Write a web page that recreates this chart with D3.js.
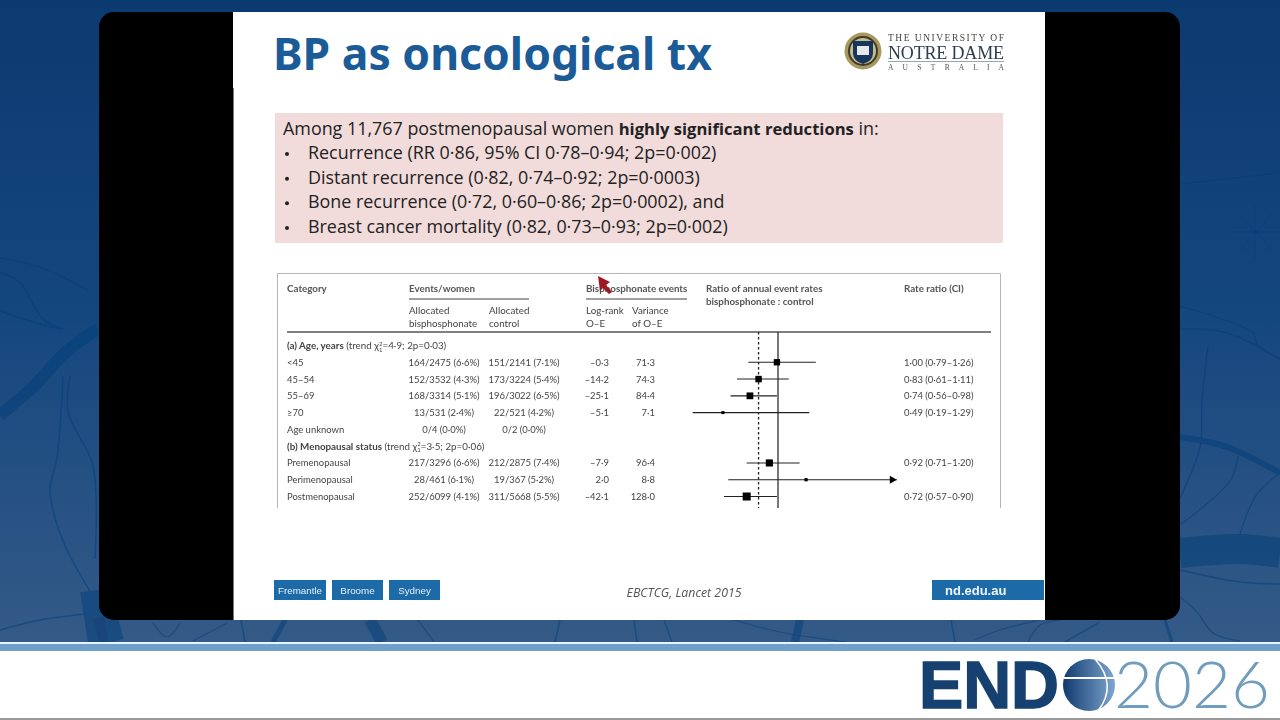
<!DOCTYPE html>
<html>
<head>
<meta charset="utf-8">
<script src="https://cdn.jsdelivr.net/npm/d3@7"></script>
<style>
  html, body { margin: 0; padding: 0; background: #fff; overflow: hidden; }
  svg { display: block; }
  .tbl { font-family: Lato, "Noto Sans", sans-serif; font-size: 9.8px; fill: #444; }
  .cell { font-size: 9.45px; }
  .head { font-weight: 700; fill: #555; }
  .bullet { font-family: "Open Sans", sans-serif; font-size: 17.9px; fill: #222; }
</style>
</head>
<body>
<script>
const categories = ["<45", "45–54", "55–69", "≥70", "Age unknown", "Premenopausal", "Perimenopausal", "Postmenopausal"];
const rowSlots = [1, 2, 3, 4, 5, 7, 8, 9];
const bisphosphonate = ["164/2475 (6·6%)", "152/3532 (4·3%)", "168/3314 (5·1%)", "13/531 (2·4%)", "0/4 (0·0%)", "217/3296 (6·6%)", "28/461 (6·1%)", "252/6099 (4·1%)"];
const control = ["151/2141 (7·1%)", "173/3224 (5·4%)", "196/3022 (6·5%)", "22/521 (4·2%)", "0/2 (0·0%)", "212/2875 (7·4%)", "19/367 (5·2%)", "311/5668 (5·5%)"];
const logRank = ["–0·3", "–14·2", "–25·1", "–5·1", "", "–7·9", "2·0", "–42·1"];
const varianceLabels = ["71·3", "74·3", "84·4", "7·1", "", "96·4", "8·8", "128·0"];
const variances = [71.3, 74.3, 84.4, 7.1, null, 96.4, 8.8, 128.0];
const rateLabels = ["1·00 (0·79–1·26)", "0·83 (0·61–1·11)", "0·74 (0·56–0·98)", "0·49 (0·19–1·29)", "", "0·92 (0·71–1·20)", "", "0·72 (0·57–0·90)"];
// plotted positions
const ratios = [0.99, 0.82, 0.74, 0.49, null, 0.92, 1.26, 0.71];
const lower = [0.725, 0.62, 0.56, 0.21, null, 0.71, 0.54, 0.50];
const upper = [1.35, 1.10, 0.99, 1.29, null, 1.20, 2.10, 0.99];
const overallRatio = 0.82;
const bullets = [
  "Recurrence (RR 0·86, 95% CI 0·78–0·94; 2p=0·002)",
  "Distant recurrence (0·82, 0·74–0·92; 2p=0·0003)",
  "Bone recurrence (0·72, 0·60–0·86; 2p=0·0002), and",
  "Breast cancer mortality (0·82, 0·73–0·93; 2p=0·002)"
];
const campuses = ["Fremantle", "Broome", "Sydney"];

const width = 1280;
const height = 720;

const svg = d3.select("body").append("svg")
  .attr("width", width)
  .attr("height", height);

const defs = svg.append("defs");
const bgGrad = defs.append("linearGradient").attr("id", "bg").attr("x2", 0).attr("y2", 1);
bgGrad.append("stop").attr("offset", "0%").attr("stop-color", "#0b3a70");
bgGrad.append("stop").attr("offset", "50%").attr("stop-color", "#15477f");
bgGrad.append("stop").attr("offset", "100%").attr("stop-color", "#345a87");
const globeGrad = defs.append("linearGradient").attr("id", "globe").attr("x2", 1).attr("y2", 0);
globeGrad.append("stop").attr("offset", "0%").attr("stop-color", "#123a6e");
globeGrad.append("stop").attr("offset", "100%").attr("stop-color", "#7ea6cf");
defs.append("filter").attr("id", "soft").append("feGaussianBlur").attr("stdDeviation", 0.28);
defs.append("filter").attr("id", "soft2").append("feGaussianBlur").attr("stdDeviation", 0.7);

// backdrop
svg.append("rect").attr("width", width).attr("height", 642).attr("fill", "url(#bg)");

const veins = [
  [[[0, 415], [33, 387], [67, 351], [98, 329]], 12],
  [[[0, 272], [20, 283], [43, 319], [63, 329]], 1.5],
  [[[0, 311], [33, 322], [60, 329]], 1.5],
  [[[0, 258], [40, 267], [87, 290]], 1.2],
  [[[63, 376], [57, 458], [50, 491], [63, 541], [90, 591]], 1.5],
  [[[70, 376], [68, 412], [93, 466], [95, 559]], 1.5],
  [[[90, 591], [98, 642]], 20],
  [[[105, 616], [112, 642]], 24],
  [[[0, 630], [40, 620], [87, 614]], 1.5],
  [[[153, 623], [167, 637], [180, 623]], 1.2],
  [[[193, 641], [227, 623]], 1.2],
  [[[241, 620], [245, 642]], 1.5],
  [[[285, 620], [273, 642]], 5],
  [[[370, 620], [382, 642]], 12],
  [[[418, 620], [434, 642]], 1.2],
  [[[560, 620], [555, 642]], 1.5],
  [[[634, 620], [637, 642]], 1.5],
  [[[664, 620], [672, 642]], 1.2],
  [[[734, 620], [780, 632], [846, 642]], 1.2],
  [[[800, 620], [795, 642]], 8],
  [[[951, 620], [955, 642]], 1.5],
  [[[1040, 620], [1000, 630], [975, 640]], 1.2],
  [[[1028, 642], [1040, 625], [1060, 620]], 1.2],
  [[[1180, 184], [1280, 173]], 1],
  [[[1255, 205], [1255, 262]], 0.8],
  [[[1228, 232], [1282, 232]], 0.8],
  [[[1240, 214], [1272, 250]], 0.7],
  [[[1240, 250], [1272, 214]], 0.7],
  [[[1180, 306], [1253, 333], [1257, 344], [1280, 359]], 1.3],
  [[[1180, 329], [1227, 333], [1280, 359]], 1.3],
  [[[1208, 346], [1202, 401], [1200, 447], [1180, 498]], 1.3],
  [[[1180, 437], [1227, 447], [1280, 473]], 6],
  [[[1180, 525], [1230, 481], [1238, 456]], 1.3],
  [[[1240, 534], [1257, 494], [1280, 473]], 1.3],
  [[[1180, 553], [1240, 549], [1280, 553]], 30],
  [[[1180, 570], [1240, 582], [1280, 584]], 1.3],
  [[[1180, 597], [1197, 612], [1213, 633], [1240, 641]], 1.3],
  [[[1165, 620], [1172, 642]], 3],
  [[[1065, 642], [1100, 622]], 1.5]
];
const veinLine = d3.line().curve(d3.curveCatmullRom);
svg.append("g")
  .attr("filter", "url(#soft2)")
  .selectAll("path")
  .data(veins)
  .enter()
  .append("path")
  .attr("d", d => veinLine(d[0]))
  .attr("fill", "none")
  .attr("stroke", "#0b3c78")
  .attr("stroke-opacity", 0.5)
  .attr("stroke-width", d => d[1]);

// footer bands
svg.append("rect").attr("y", 642).attr("width", width).attr("height", 2).attr("fill", "#e8f4fb");
svg.append("rect").attr("y", 644).attr("width", width).attr("height", 7).attr("fill", "#6f9fcb");
svg.append("rect").attr("y", 651).attr("width", width).attr("height", 67).attr("fill", "#fff");
svg.append("rect").attr("y", 718).attr("width", width).attr("height", 2).attr("fill", "#999");

// video panel and slide
svg.append("rect").attr("x", 99).attr("y", 12).attr("width", 1081).attr("height", 608).attr("rx", 15).attr("fill", "#000");
svg.append("rect").attr("x", 233).attr("y", 12).attr("width", 812).attr("height", 608).attr("fill", "#fff");
svg.append("rect").attr("x", 233).attr("y", 88).attr("width", 1).attr("height", 532).attr("fill", "#777");

svg.append("text")
  .attr("x", 273).attr("y", 70)
  .attr("font-family", "'Noto Sans', sans-serif")
  .attr("font-weight", 700)
  .attr("font-size", 44.5)
  .attr("fill", "#1b5b97")
  .text("BP as oncological tx");

// university logo
const logo = svg.append("g").attr("filter", "url(#soft)");
logo.append("circle").attr("cx", 863).attr("cy", 51).attr("r", 18.5).attr("fill", "#a8975f");
logo.append("circle").attr("cx", 863).attr("cy", 51).attr("r", 15).attr("fill", "#3b3a2c");
logo.append("circle").attr("cx", 863).attr("cy", 51).attr("r", 13).attr("fill", "#c9bc8c");
logo.append("path").attr("d", "M853,41h20v12q0,8 -10,11q-10,-3 -10,-11z").attr("fill", "#17365f");
logo.append("rect").attr("x", 857).attr("y", 46).attr("width", 12).attr("height", 9).attr("fill", "#e6e8ea");
const logoText = [
  ["THE UNIVERSITY OF", 40.5, 9.5, 116, "#444"],
  ["NOTRE DAME", 58.5, 18, 116, "#2f3d4d"],
  ["A U S T R A L I A", 70, 7.5, 116, "#555"]
];
logo.selectAll("text")
  .data(logoText)
  .enter()
  .append("text")
  .attr("x", 888)
  .attr("y", d => d[1])
  .attr("font-family", "'Liberation Serif', serif")
  .attr("font-size", d => d[2])
  .attr("textLength", d => d[3])
  .attr("lengthAdjust", "spacing")
  .attr("fill", d => d[4])
  .text(d => d[0]);
logo.append("line").attr("x1", 888).attr("x2", 1004).attr("y1", 61.5).attr("y2", 61.5).attr("stroke", "#9aa7b0");

// summary box
svg.append("rect").attr("x", 275).attr("y", 113).attr("width", 728).attr("height", 130).attr("fill", "#f1dcdb");
const intro = svg.append("text").attr("class", "bullet").attr("x", 283).attr("y", 135);
intro.append("tspan").text("Among 11,767 postmenopausal women ");
intro.append("tspan").attr("font-weight", 700).attr("font-size", 16.6).text("highly significant reductions");
intro.append("tspan").text(" in:");

const bulletY = d3.scaleLinear().domain([0, 3]).range([159, 233]);
svg.append("g").selectAll("text")
  .data(bullets)
  .enter()
  .append("text")
  .attr("class", "bullet")
  .attr("x", 308)
  .attr("y", (d, i) => bulletY(i))
  .text(d => d);
svg.append("g").selectAll("circle")
  .data(bullets)
  .enter()
  .append("circle")
  .attr("cx", 287)
  .attr("cy", (d, i) => bulletY(i) - 5)
  .attr("r", 2)
  .attr("fill", "#222");

// forest table
const table = svg.append("g").attr("filter", "url(#soft)");
table.append("path")
  .attr("d", "M277.5,508V273.5H1000.5V508")
  .attr("fill", "none")
  .attr("stroke", "#b9b3b6");

const rowY = d3.scaleLinear().domain([0, 9]).range([345.5, 496.5]);
const xRatio = d3.scaleLinear().domain([0, 2]).range([670, 886]);
const boxSize = d3.scalePow().exponent(0.5).domain([0, 128]).range([1.5, 8]);

function headText(x, y, str, bold) {
  return table.append("text")
    .attr("class", bold ? "tbl head" : "tbl")
    .attr("x", x)
    .attr("y", y)
    .text(str);
}
headText(287, 292, "Category", true);
headText(409, 292, "Events/women", true);
headText(586, 292, "Bisphosphonate events", true);
headText(706, 292, "Ratio of annual event rates", true);
headText(706, 305, "bisphosphonate : control", true);
headText(904, 292, "Rate ratio (CI)", true);
headText(409, 314, "Allocated");
headText(409, 327, "bisphosphonate");
headText(489, 314, "Allocated");
headText(489, 327, "control");
headText(586, 314, "Log-rank");
headText(586, 327, "O–E");
headText(632, 314, "Variance");
headText(632, 327, "of O–E");

table.selectAll("line.rule")
  .data([[409, 529, 299], [586, 687, 299]])
  .enter()
  .append("line")
  .attr("class", "rule")
  .attr("x1", d => d[0])
  .attr("x2", d => d[1])
  .attr("y1", d => d[2])
  .attr("y2", d => d[2])
  .attr("stroke", "#444");
table.append("line")
  .attr("x1", 287).attr("x2", 991)
  .attr("y1", 332).attr("y2", 332)
  .attr("stroke", "#555").attr("stroke-width", 1.4);

function sectionRow(slot, boldPart, chi, rest) {
  const t = table.append("text").attr("class", "tbl").attr("x", 287).attr("y", rowY(slot) + 3.5);
  t.append("tspan").attr("font-weight", 700).text(boldPart);
  t.append("tspan").text(" (trend χ");
  t.append("tspan").attr("font-size", 6).attr("dy", -3.5).text("2");
  t.append("tspan").attr("font-size", 6).attr("dx", -3.4).attr("dy", 6).text("1");
  t.append("tspan").attr("dy", -2.5).text(chi + rest);
}
sectionRow(0, "(a) Age, years", "=4·9", "; 2p=0·03)");
sectionRow(6, "(b) Menopausal status", "=3·5", "; 2p=0·06)");

function column(values, x, anchor) {
  table.append("g").selectAll("text")
    .data(values)
    .enter()
    .append("text")
    .attr("class", "tbl cell")
    .attr("x", x)
    .attr("y", (d, i) => rowY(rowSlots[i]) + 3.5)
    .attr("text-anchor", anchor)
    .text(d => d);
}
column(categories, 287, "start");
column(bisphosphonate, 444, "middle");
column(control, 524, "middle");
column(logRank, 609, "end");
column(varianceLabels, 655, "end");
column(rateLabels, 904, "start");

// reference lines
table.append("line")
  .attr("x1", xRatio(1)).attr("x2", xRatio(1))
  .attr("y1", 332).attr("y2", 508)
  .attr("stroke", "#222").attr("stroke-width", 1.2);
table.append("line")
  .attr("x1", xRatio(overallRatio)).attr("x2", xRatio(overallRatio))
  .attr("y1", 332).attr("y2", 508)
  .attr("stroke", "#222").attr("stroke-width", 1.3).attr("stroke-dasharray", "2.5,2.5");

// confidence intervals and boxes
const plotted = d3.range(categories.length).filter(i => ratios[i] !== null);
table.append("g").selectAll("line")
  .data(plotted)
  .enter()
  .append("line")
  .attr("x1", i => xRatio(lower[i]))
  .attr("x2", i => xRatio(upper[i]))
  .attr("y1", i => rowY(rowSlots[i]))
  .attr("y2", i => rowY(rowSlots[i]))
  .attr("stroke", "#222")
  .attr("stroke-width", 1.1);
table.append("g").selectAll("rect")
  .data(plotted)
  .enter()
  .append("rect")
  .attr("x", i => xRatio(ratios[i]) - boxSize(variances[i]) / 2)
  .attr("y", i => rowY(rowSlots[i]) - boxSize(variances[i]) / 2)
  .attr("width", i => boxSize(variances[i]))
  .attr("height", i => boxSize(variances[i]))
  .attr("fill", "#000");
// the perimenopausal interval runs off the plot
const arrowIdx = 6;
const tip = xRatio(upper[arrowIdx]);
const arrowY = rowY(rowSlots[arrowIdx]);
table.append("path")
  .attr("d", d3.line()([[tip, arrowY], [tip - 7, arrowY - 4], [tip - 7, arrowY + 4]]) + "Z")
  .attr("fill", "#000");

// mouse pointer caught in the video
svg.append("path")
  .attr("d", d3.line()([[598, 276], [610, 282], [606, 285], [612, 292], [609, 294], [603, 288], [600, 291]]) + "Z")
  .attr("fill", "#a01822")
  .attr("filter", "url(#soft)");

// slide footer
const campusBoxes = [[274, 52], [332, 51], [389, 51]];
const foot = svg.append("g").attr("filter", "url(#soft)");
foot.selectAll("rect")
  .data(campuses)
  .enter()
  .append("rect")
  .attr("x", (d, i) => campusBoxes[i][0])
  .attr("y", 580)
  .attr("width", (d, i) => campusBoxes[i][1])
  .attr("height", 20)
  .attr("fill", "#1b6aa8");
foot.selectAll("text")
  .data(campuses)
  .enter()
  .append("text")
  .attr("x", (d, i) => campusBoxes[i][0] + campusBoxes[i][1] / 2)
  .attr("y", 594)
  .attr("text-anchor", "middle")
  .attr("font-family", "'Liberation Sans', sans-serif")
  .attr("font-size", 9.8)
  .attr("fill", "#e8f1f8")
  .text(d => d);
foot.append("text")
  .attr("x", 684).attr("y", 597)
  .attr("text-anchor", "middle")
  .attr("font-family", "'Open Sans', sans-serif")
  .attr("font-style", "italic")
  .attr("font-size", 12.3)
  .attr("fill", "#555")
  .text("EBCTCG, Lancet 2015");
foot.append("rect").attr("x", 932).attr("y", 580).attr("width", 112).attr("height", 20).attr("fill", "#1b6aa8");
foot.append("text")
  .attr("x", 945).attr("y", 594.5)
  .attr("font-family", "'Liberation Sans', sans-serif")
  .attr("font-weight", 700)
  .attr("font-size", 13)
  .attr("fill", "#f2f6fa")
  .text("nd.edu.au");

// conference logo
const endo = svg.append("g").attr("filter", "url(#soft)");
endo.append("text")
  .attr("x", 919).attr("y", 708)
  .attr("font-family", "'Liberation Sans', sans-serif")
  .attr("font-weight", 700)
  .attr("font-size", 66)
  .attr("textLength", 140)
  .attr("lengthAdjust", "spacingAndGlyphs")
  .attr("stroke", "#16406f")
  .attr("stroke-width", 1.5)
  .attr("fill", "#16406f")
  .text("END");
endo.append("circle").attr("cx", 1089).attr("cy", 685).attr("r", 26).attr("fill", "url(#globe)");
endo.append("path").attr("d", "M1062,678H1116").attr("stroke", "#fff").attr("stroke-width", 2);
endo.append("path").attr("d", "M1095,659Q1118,685 1098,711").attr("stroke", "#fff").attr("stroke-width", 1.5).attr("fill", "none");
endo.append("text")
  .attr("x", 1114).attr("y", 708)
  .attr("font-family", "Lato, sans-serif")
  .attr("font-weight", 300)
  .attr("font-size", 66)
  .attr("textLength", 156)
  .attr("lengthAdjust", "spacingAndGlyphs")
  .attr("fill", "#6f9dbd")
  .text("2026");
</script>
</body>
</html>
